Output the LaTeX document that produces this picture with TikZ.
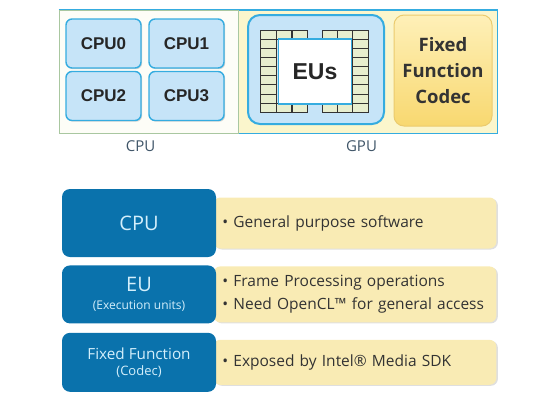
\documentclass[tikz,border=0pt]{standalone}
\usepackage{fontspec}
\setmainfont{Open Sans}
\newfontfamily\corefont{Liberation Sans}
\usetikzlibrary{positioning,shadows,backgrounds}

\definecolor{coreblue}{HTML}{C6E4F8}
\definecolor{edgeblue}{HTML}{35ACE0}
\definecolor{gpuyellow}{HTML}{FBF6CC}
\definecolor{cpuwhite}{HTML}{FDFDF7}
\definecolor{framegreen}{HTML}{A9C7A0}
\definecolor{gridfill}{HTML}{E7EECF}
\definecolor{codectop}{HTML}{FEF0B8}
\definecolor{codecbot}{HTML}{F8D870}
\definecolor{codecedge}{HTML}{EBCB6E}
\definecolor{intelblue}{HTML}{0A72AC}
\definecolor{paleblue}{HTML}{D4EFFB}
\definecolor{noteyellow}{HTML}{F9EBB4}
\definecolor{labelgray}{HTML}{3F5568}

\begin{document}
\begin{tikzpicture}[
    x=1pt, y=-1pt,
    core/.style={
        rounded corners=6pt, draw=edgeblue, line width=1.4pt, fill=coreblue,
        minimum width=75pt, minimum height=49pt, inner sep=0pt,
        font=\corefont\bfseries\fontsize{17}{17}\selectfont, text=black!85,
        drop shadow={opacity=0.3, shadow xshift=1.2pt, shadow yshift=-1.2pt}},
    area/.style={minimum height=123pt, inner sep=0pt, line width=1pt},
    cell/.style={draw=black!80, fill=gridfill, line width=0.5pt},
    caption/.style={font=\fontsize{15}{15}\selectfont, text=labelgray, inner sep=1pt},
    tag/.style={
        fill=intelblue, rounded corners=8pt, minimum width=154pt,
        text=paleblue, align=center, inner sep=0pt},
    note/.style={
        fill=noteyellow, rounded corners=7pt, minimum width=283pt,
        text width=265pt, inner xsep=9pt, inner ysep=0pt, align=left,
        font=\fontsize{15.5}{23}\selectfont, text=black!80,
        drop shadow={opacity=0.25, shadow xshift=1.5pt, shadow yshift=-1pt}},
]
\useasboundingbox (0,0) rectangle (560,400);

% ---- top: CPU / GPU areas ----
\node[area, draw=edgeblue, fill=gpuyellow, minimum width=259pt] (gpuarea) at (367.5,71.5) {};
\node[area, draw=framegreen, fill=cpuwhite, minimum width=179pt] (cpuarea) at (148.5,71.5) {};
\draw[edgeblue, line width=1.2pt] (cpuarea.north west) -- (gpuarea.north east);

\node[caption, below=6pt of cpuarea, xshift=-8pt] (cpulabel) {CPU};
\node[caption, below=6pt of gpuarea, xshift=-6pt] (gpulabel) {GPU};

% ---- CPU cores ----
\node[core] (cpu0) at (103.5,43.5) {CPU0};
\node[core] (cpu1) at (186.5,43.5) {CPU1};
\node[core] (cpu2) at (103.5,96)   {CPU2};
\node[core] (cpu3) at (186.5,96)   {CPU3};

% ---- EU array ----
\node[rounded corners=12pt, draw=edgeblue, line width=2pt, fill=coreblue,
      minimum width=136pt, minimum height=109pt] (eubox) at (316,69.5) {};
\foreach \r in {0,...,8} {
    \draw[cell] (260,{30+\r*9.11}) rectangle ++(16,9.11);
    \draw[cell] (352,{30+\r*9.11}) rectangle ++(16,9.11);
}
\foreach \x in {276,292,322,337} {
    \draw[cell] (\x,30) rectangle ++(15.5,9.11);
    \draw[cell] (\x,102.9) rectangle ++(15.5,9.11);
}
\node[draw=edgeblue, line width=1.6pt, fill=white, minimum width=73pt, minimum height=65pt,
      font=\corefont\bfseries\fontsize{23}{23}\selectfont, text=black!85] (eus) at (315,71.5) {EUs};

% ---- codec ----
\node[rounded corners=10pt, draw=codecedge, line width=1pt, top color=codectop, bottom color=codecbot,
      minimum width=98pt, minimum height=111pt, align=center, text=black!80,
      font=\bfseries\fontsize{18.5}{26}\selectfont] (codec) at (443,70.5) {Fixed\\Function\\Codec};

% ---- bottom: roles ----
\node[tag, minimum height=68pt, font=\fontsize{20}{20}\selectfont] (cpubox) at (139,223) {CPU};
\node[tag, minimum height=58pt, below=8pt of cpubox] (eurow)
    {{\fontsize{20}{20}\selectfont EU}\\[6pt]{\fontsize{12}{13}\selectfont (Execution units)}};
\node[tag, minimum height=59pt, below=9pt of eurow] (ffbox)
    {{\fontsize{15.3}{18}\selectfont Fixed Function}\\[4pt]{\fontsize{13}{13}\selectfont (Codec)}};

\begin{scope}[on background layer]
\node[note, minimum height=51pt, right=-3pt of cpubox] (cpunote) {• General purpose software};
\node[note, minimum height=56pt, right=-3pt of eurow] (eunote)
    {• Frame Processing operations\\• Need OpenCL™ for general access};
\node[note, minimum height=45pt, right=-3pt of ffbox] (ffnote) {• Exposed by Intel® Media SDK};
\end{scope}

\end{tikzpicture}
\end{document}
